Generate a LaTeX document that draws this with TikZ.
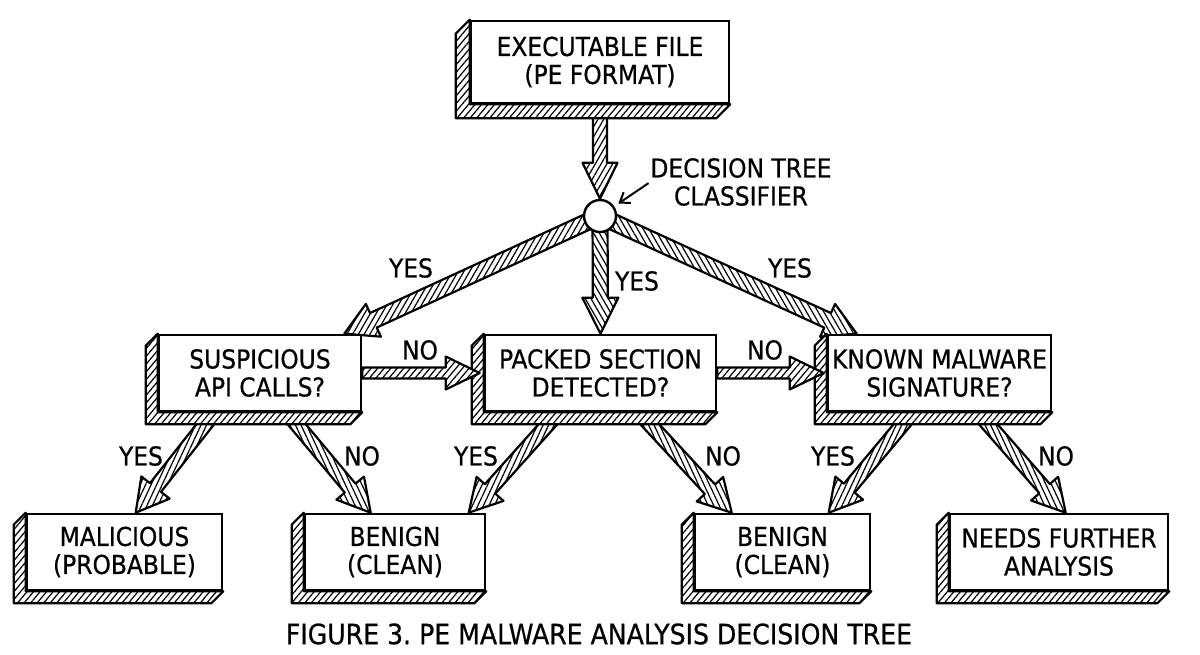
\documentclass[tikz,border=0pt]{standalone}
\usepackage{fontspec}
\setmainfont{DejaVu Sans Condensed}[FakeBold=0.6]
\usetikzlibrary{calc,patterns.meta,arrows.meta}
\pgfdeclarelayer{underlayer}
\pgfdeclarelayer{shadowlayer}
\pgfdeclarelayer{overlayer}
\pgfsetlayers{underlayer,shadowlayer,overlayer,main}
\frenchspacing
\tikzset{
  box/.style={draw=black, line width=2.6pt, fill=white, align=center, inner sep=0pt,
    font=\fontsize{26}{28}\selectfont},
  hatchbox/.style={draw=black, line width=2.2pt, line join=round, preaction={fill=white},
    pattern={Lines[angle=50,distance=5pt,line width=1.2pt]}},
  hatcharrow/.style={draw=black, line width=2.2pt, line join=round, preaction={fill=white},
    pattern={Lines[angle=#1,distance=5pt,line width=1.2pt]}},
  lbl/.style={font=\fontsize{26}{28}\selectfont, inner sep=0pt},
  hub/.style={circle, draw=black, line width=2.4pt, fill=white, minimum size=32pt, inner sep=0pt}
}
\newcommand\boxshadow[2]{%
  \begin{pgfonlayer}{shadowlayer}
  \draw[hatchbox] (#1.north west) -- ++(-#2,#2) -- ($(#1.south west)+(-#2,#2)$)
    -- ($(#1.south east)+(-#2,#2)$) -- (#1.south east) -- (#1.south west) -- cycle;
  \end{pgfonlayer}}
% #1 layer, #2 hatch angle, #3 start, #4 tip, #5 shaft half, #6 head half, #7 head length
\newcommand\fatarrow[7]{%
  \begin{pgfonlayer}{#1}
  \coordinate (facut) at ($(#4)!#7!(#3)$);
  \draw[hatcharrow=#2] ($(#3)!#5!90:(#4)$) -- ($(facut)!#5!90:(#4)$) -- ($(facut)!#6!90:(#4)$)
    -- (#4) -- ($(facut)!#6!-90:(#4)$) -- ($(facut)!#5!-90:(#4)$) -- ($(#3)!#5!-90:(#4)$) -- cycle;
  \end{pgfonlayer}}
\begin{document}
\begin{tikzpicture}[x=1pt,y=-1pt]
\useasboundingbox (0,0) rectangle (1200,655);
% boxes
\node[box, minimum width=258pt, minimum height=82pt] (top) at (600,62) {EXECUTABLE FILE\\(PE FORMAT)};
\node[box, minimum width=202pt, minimum height=76pt] (api) at (260,373) {SUSPICIOUS\\API CALLS?};
\node[box, minimum width=231pt, minimum height=76pt] (packed) at (600.5,373) {PACKED SECTION\\DETECTED?};
\node[box, minimum width=223pt, minimum height=76pt] (known) at (939.5,373) {KNOWN MALWARE\\SIGNATURE?};
\node[box, minimum width=195pt, minimum height=76pt] (mal) at (124.5,552) {MALICIOUS\\(PROBABLE)};
\node[box, minimum width=180pt, minimum height=76pt] (ben1) at (395,552) {BENIGN\\(CLEAN)};
\node[box, minimum width=175pt, minimum height=76pt] (ben2) at (782.5,552) {BENIGN\\(CLEAN)};
\node[box, minimum width=218pt, minimum height=76pt] (needs) at (1059,552) {NEEDS FURTHER\\ANALYSIS};
\node[hub] (clf) at (600,216) {};
\boxshadow{top}{14}
\boxshadow{api}{12}
\boxshadow{packed}{12}
\boxshadow{known}{12}
\boxshadow{mal}{12}
\boxshadow{ben1}{12}
\boxshadow{ben2}{12}
\boxshadow{needs}{12}
% classifier label
\node[lbl, align=center] (dlbl) at (741,182) {DECISION TREE\\CLASSIFIER};
\draw[line width=2pt, -{Straight Barb[length=9pt,width=13pt]}, shorten <=2pt, shorten >=5pt] (dlbl.west) -- (clf);
% arrows
\fatarrow{underlayer}{60}{top.south}{clf.north}{7pt}{17.5pt}{36pt}
\coordinate (t1) at ($(api.north east)+(-18,0)$);
\fatarrow{underlayer}{60}{clf.center}{t1}{8pt}{18pt}{32pt}
\fatarrow{underlayer}{-60}{clf.center}{packed.north}{7.5pt}{18pt}{36pt}
\coordinate (t3) at ($(known.north west)+(30,0)$);
\fatarrow{underlayer}{-60}{clf.center}{t3}{8pt}{18pt}{32pt}
\coordinate (t4) at ($(packed.west)+(-4,0)$);
\fatarrow{overlayer}{50}{api.east}{t4}{5.5pt}{16.5pt}{34pt}
\coordinate (t5) at ($(known.west)+(-3,0)$);
\fatarrow{overlayer}{50}{packed.east}{t5}{5.5pt}{16.5pt}{34pt}
\coordinate (s1) at ($(api.south west)+(57,0)$);
\coordinate (e1) at ($(mal.north west)+(110,0)$);
\fatarrow{underlayer}{65}{s1}{e1}{7pt}{18pt}{32pt}
\coordinate (s2) at ($(api.south west)+(129,0)$);
\coordinate (e2) at ($(ben1.north west)+(67,0)$);
\fatarrow{underlayer}{-65}{s2}{e2}{7pt}{18pt}{32pt}
\coordinate (s3) at ($(packed.south west)+(75,0)$);
\coordinate (e3) at ($(ben1.north west)+(165,0)$);
\fatarrow{underlayer}{65}{s3}{e3}{7pt}{18pt}{32pt}
\coordinate (s4) at ($(packed.south west)+(155,0)$);
\coordinate (e4) at ($(ben2.north west)+(38,0)$);
\fatarrow{underlayer}{-65}{s4}{e4}{7pt}{18pt}{32pt}
\coordinate (s5) at ($(known.south west)+(86,0)$);
\coordinate (e5) at ($(ben2.north west)+(135,0)$);
\fatarrow{underlayer}{65}{s5}{e5}{7pt}{18pt}{32pt}
\coordinate (s6) at ($(known.south west)+(151,0)$);
\coordinate (e6) at ($(needs.north west)+(117,0)$);
\fatarrow{underlayer}{-65}{s6}{e6}{7pt}{18pt}{32pt}
% labels
\node[lbl] (y1) at (411,268) {YES};
\node[lbl] (y2) at (637,281) {YES};
\node[lbl] (y3) at (790,268) {YES};
\node[lbl] (n1) at (420,350) {NO};
\node[lbl] (n2) at (765,350) {NO};
\node[lbl] (y4) at (141,456) {YES};
\node[lbl] (n3) at (362,456) {NO};
\node[lbl] (y5) at (476,456) {YES};
\node[lbl] (n4) at (723,456) {NO};
\node[lbl] (y6) at (833,456) {YES};
\node[lbl] (n5) at (1056,456) {NO};
\node[lbl, font=\fontsize{28}{30}\selectfont] (cap) at (599,634) {FIGURE 3. PE MALWARE ANALYSIS DECISION TREE};
\end{tikzpicture}
\end{document}
